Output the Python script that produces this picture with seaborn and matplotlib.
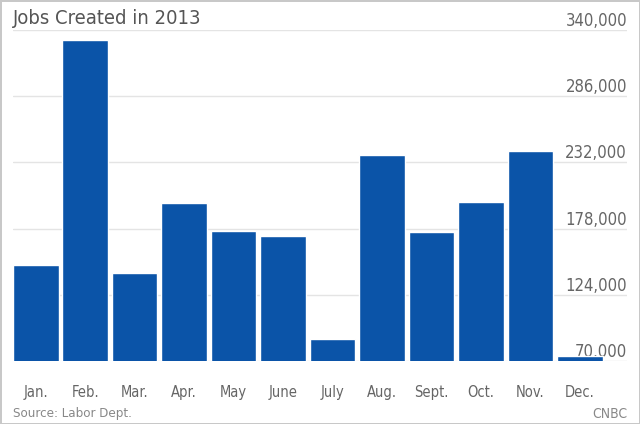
import matplotlib
matplotlib.use("Agg")
import matplotlib.pyplot as plt
import seaborn as sns
import pandas as pd

# values (jobs created per month, 2013)
months = ["Jan.", "Feb.", "Mar.", "Apr.", "May", "June",
          "July", "Aug.", "Sept.", "Oct.", "Nov.", "Dec."]
jobs = [148000, 332000, 142000, 199000, 176000, 172000,
        88000, 238000, 175000, 200000, 241000, 74000]
y_ticks = [70000, 124000, 178000, 232000, 286000, 340000]

df = pd.DataFrame({"month": months, "jobs": jobs})

sns.set_style("white")
plt.rcParams["font.family"] = ["DejaVu Sans"]
plt.rcParams["font.stretch"] = "condensed"

fig = plt.figure(figsize=(6.4, 4.24), dpi=100, edgecolor="#c8c8c8", linewidth=2)
ax = fig.add_axes([13 / 640, 63 / 424, 614 / 640, 331 / 424])

sns.barplot(data=df, x="month", y="jobs", color="#0B54A8", saturation=1,
            width=0.92, ax=ax, zorder=3)

ax.set_xlim(-0.46, 11.95)
ax.set_ylim(70000, 340000)
ax.set_yticks(y_ticks)
ax.yaxis.grid(True, color="#e4e4e4", linewidth=1, zorder=0)
ax.set_axisbelow(True)
for s in ax.spines.values():
    s.set_visible(False)

ax.set_xlabel("")
ax.set_ylabel("")
ax.tick_params(axis="x", length=0, pad=17, labelsize=10.5, labelcolor="#666666")

# y labels sit inside the plot, right-aligned above each gridline
ax.yaxis.tick_right()
ax.tick_params(axis="y", length=0, pad=0, labelsize=12, labelcolor="#666666")
ax.set_yticklabels([f"{v:,}" for v in y_ticks])
for t in ax.get_yticklabels():
    t.set_horizontalalignment("right")
    t.set_verticalalignment("bottom")

fig.text(13 / 640, 1 - 18 / 424, "Jobs Created in 2013", fontsize=14.5,
         color="#555555", va="center", ha="left")
fig.text(13 / 640, 1 - 414 / 424, "Source: Labor Dept.", fontsize=9.5,
         color="#888888", va="center", ha="left")
fig.text(627 / 640, 1 - 414 / 424, "CNBC", fontsize=10,
         color="#888888", va="center", ha="right")

fig.savefig("out.png", dpi=100)
